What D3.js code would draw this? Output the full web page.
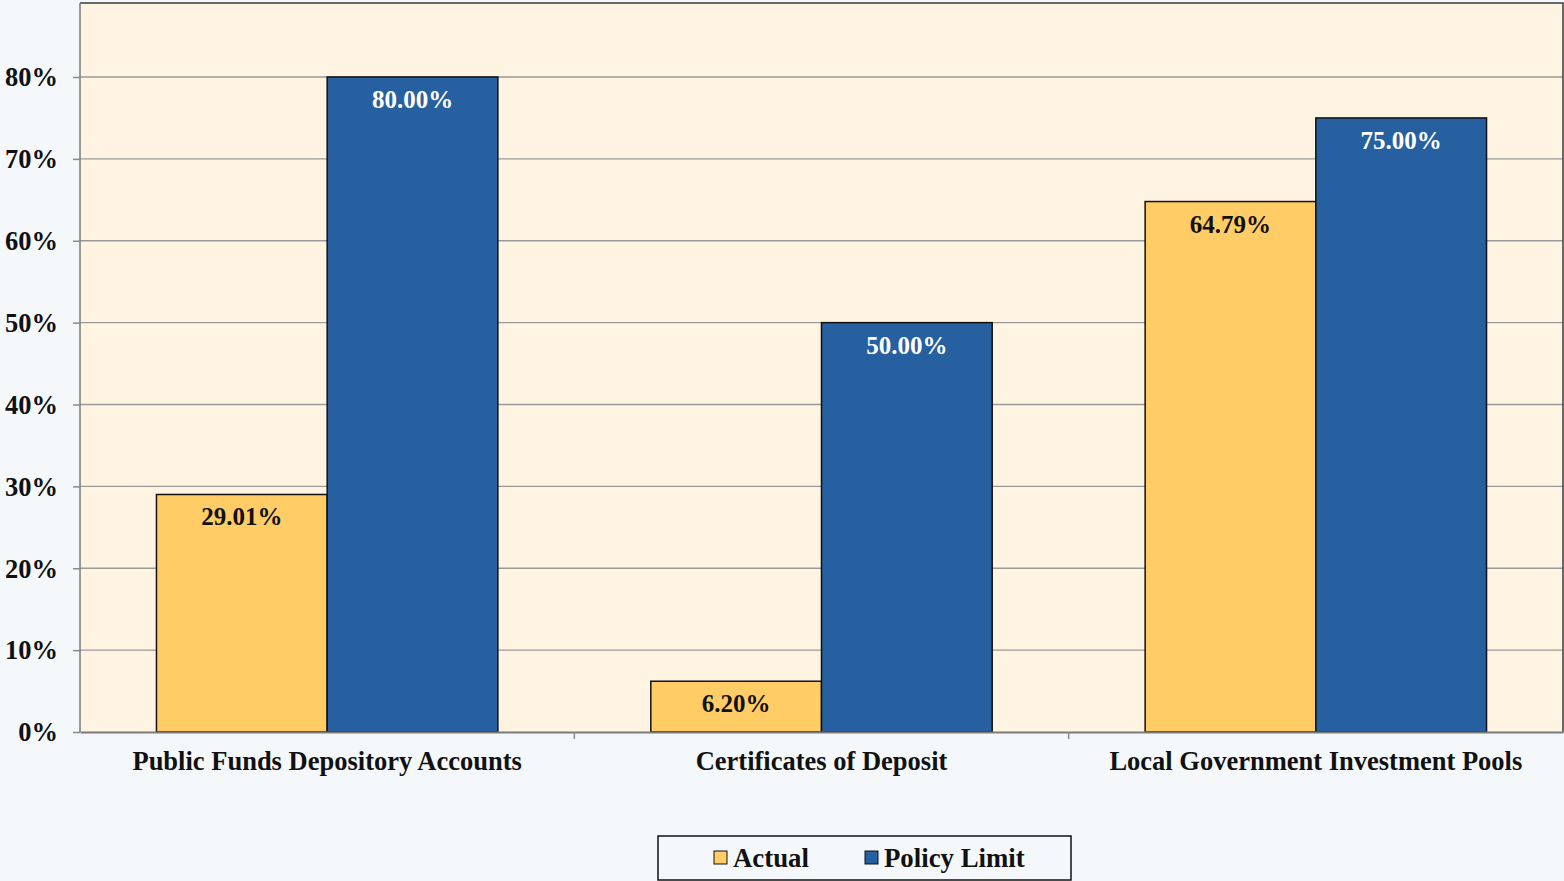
<!DOCTYPE html>
<html><head><meta charset="utf-8">
<script src="https://cdn.jsdelivr.net/npm/d3@7"></script>
<style>
html,body{margin:0;padding:0;background:#F5F8FA;}
svg{display:block;font-family:"Liberation Serif","Times New Roman",serif;font-weight:bold;}
</style></head>
<body>
<svg id="chart" width="1564" height="881"></svg>
<script>
const categories = ["Public Funds Depository Accounts", "Certificates of Deposit", "Local Government Investment Pools"];
const seriesNames = ["Actual", "Policy Limit"];
const actual = [29.01, 6.20, 64.79];
const policyLimit = [80.00, 50.00, 75.00];
const yTicks = [0, 10, 20, 30, 40, 50, 60, 70, 80];
const colors = ["#FFCC66", "#2660A0"];

const svg = d3.select("#chart");
const plotLeft = 80, plotRight = 1563, plotBottom = 732, plotTop = 3;

const y = d3.scaleLinear().domain([0, 80]).range([plotBottom, 77]);
const x0 = d3.scaleBand().domain(categories).range([plotLeft, plotRight]).paddingInner(0).paddingOuter(0);
const x1 = d3.scaleBand().domain(seriesNames).range([0, x0.bandwidth()]).paddingOuter(0.448).paddingInner(0);

// plot background
svg.append("rect").attr("x", plotLeft).attr("y", plotTop).attr("width", plotRight - plotLeft).attr("height", plotBottom - plotTop).attr("fill", "#FFF4E1");

// gridlines
svg.append("g").selectAll("line").data(yTicks.filter(d => d > 0)).join("line")
  .attr("x1", plotLeft).attr("x2", plotRight).attr("y1", d => y(d)).attr("y2", d => y(d))
  .attr("stroke", "#9A9A9A").attr("stroke-width", 1.3);

// border top/right
svg.append("path").attr("d", `M${plotLeft},${plotTop}H${plotRight}V${plotBottom}`).attr("fill", "none").attr("stroke", "#3a3a3a").attr("stroke-width", 1.5);

const data = categories.map((c, i) => ({cat: c, vals: [actual[i], policyLimit[i]]}));

const groups = svg.append("g").selectAll("g").data(data).join("g")
  .attr("transform", d => `translate(${x0(d.cat)},0)`);

groups.selectAll("rect").data(d => d.vals.map((v, j) => ({s: seriesNames[j], v, j}))).join("rect")
  .attr("x", d => x1(d.s)).attr("width", x1.bandwidth())
  .attr("y", d => y(d.v)).attr("height", d => plotBottom - y(d.v))
  .attr("fill", d => colors[d.j]).attr("stroke", "#111").attr("stroke-width", 1.5);

groups.selectAll("text").data(d => d.vals.map((v, j) => ({s: seriesNames[j], v, j}))).join("text")
  .attr("x", d => x1(d.s) + x1.bandwidth() / 2).attr("y", d => y(d.v) + 31)
  .attr("text-anchor", "middle").attr("font-size", 25)
  .attr("fill", d => d.j === 0 ? "#111" : "#fff")
  .text(d => d.v.toFixed(2) + "%");

// y axis
const yAxis = d3.axisLeft(y).tickValues(yTicks).tickSize(7).tickFormat(d => d + "%");
const gy = svg.append("g").attr("transform", `translate(${plotLeft},0)`).call(yAxis);
gy.select(".domain").attr("d", `M0,${plotTop}V${plotBottom}`).attr("stroke", "#7a7a7a").attr("stroke-width", 1.5);
gy.selectAll(".tick line").attr("stroke", "#8a8a8a").attr("stroke-width", 1.5);
gy.selectAll(".tick text").attr("font-size", 26.5).attr("font-family", "Liberation Serif, serif").attr("font-weight", "bold").attr("fill", "#111").attr("x", -22).attr("dy", "0.33em");

// x axis
const xAxis = d3.axisBottom(x0).tickSize(0).tickSizeOuter(0);
const gx = svg.append("g").attr("transform", `translate(0,${plotBottom})`).call(xAxis);
gx.select(".domain").attr("stroke", "#7a7a7a").attr("stroke-width", 2);
gx.selectAll(".tick text").attr("font-size", 26.5).attr("font-family", "Liberation Serif, serif").attr("font-weight", "bold").attr("fill", "#111").attr("y", 19).attr("dy", "0.71em");
// category separator ticks
svg.append("g").selectAll("line").data(categories.slice(1)).join("line")
  .attr("x1", d => x0(d)).attr("x2", d => x0(d)).attr("y1", plotBottom).attr("y2", plotBottom + 7)
  .attr("stroke", "#8a8a8a").attr("stroke-width", 1.5);

// legend
const lg = svg.append("g");
lg.append("rect").attr("x", 658).attr("y", 836).attr("width", 413).attr("height", 44).attr("fill", "#F5F8FA").attr("stroke", "#111").attr("stroke-width", 1.5);
const legX = [714, 865];
seriesNames.forEach((s, i) => {
  lg.append("rect").attr("x", legX[i]).attr("y", 851).attr("width", 13).attr("height", 13).attr("fill", colors[i]).attr("stroke", "#111").attr("stroke-width", 1);
  lg.append("text").attr("x", legX[i] + 19).attr("y", 867).attr("font-size", 26.8).attr("fill", "#111").text(s);
});
</script>
</body></html>
